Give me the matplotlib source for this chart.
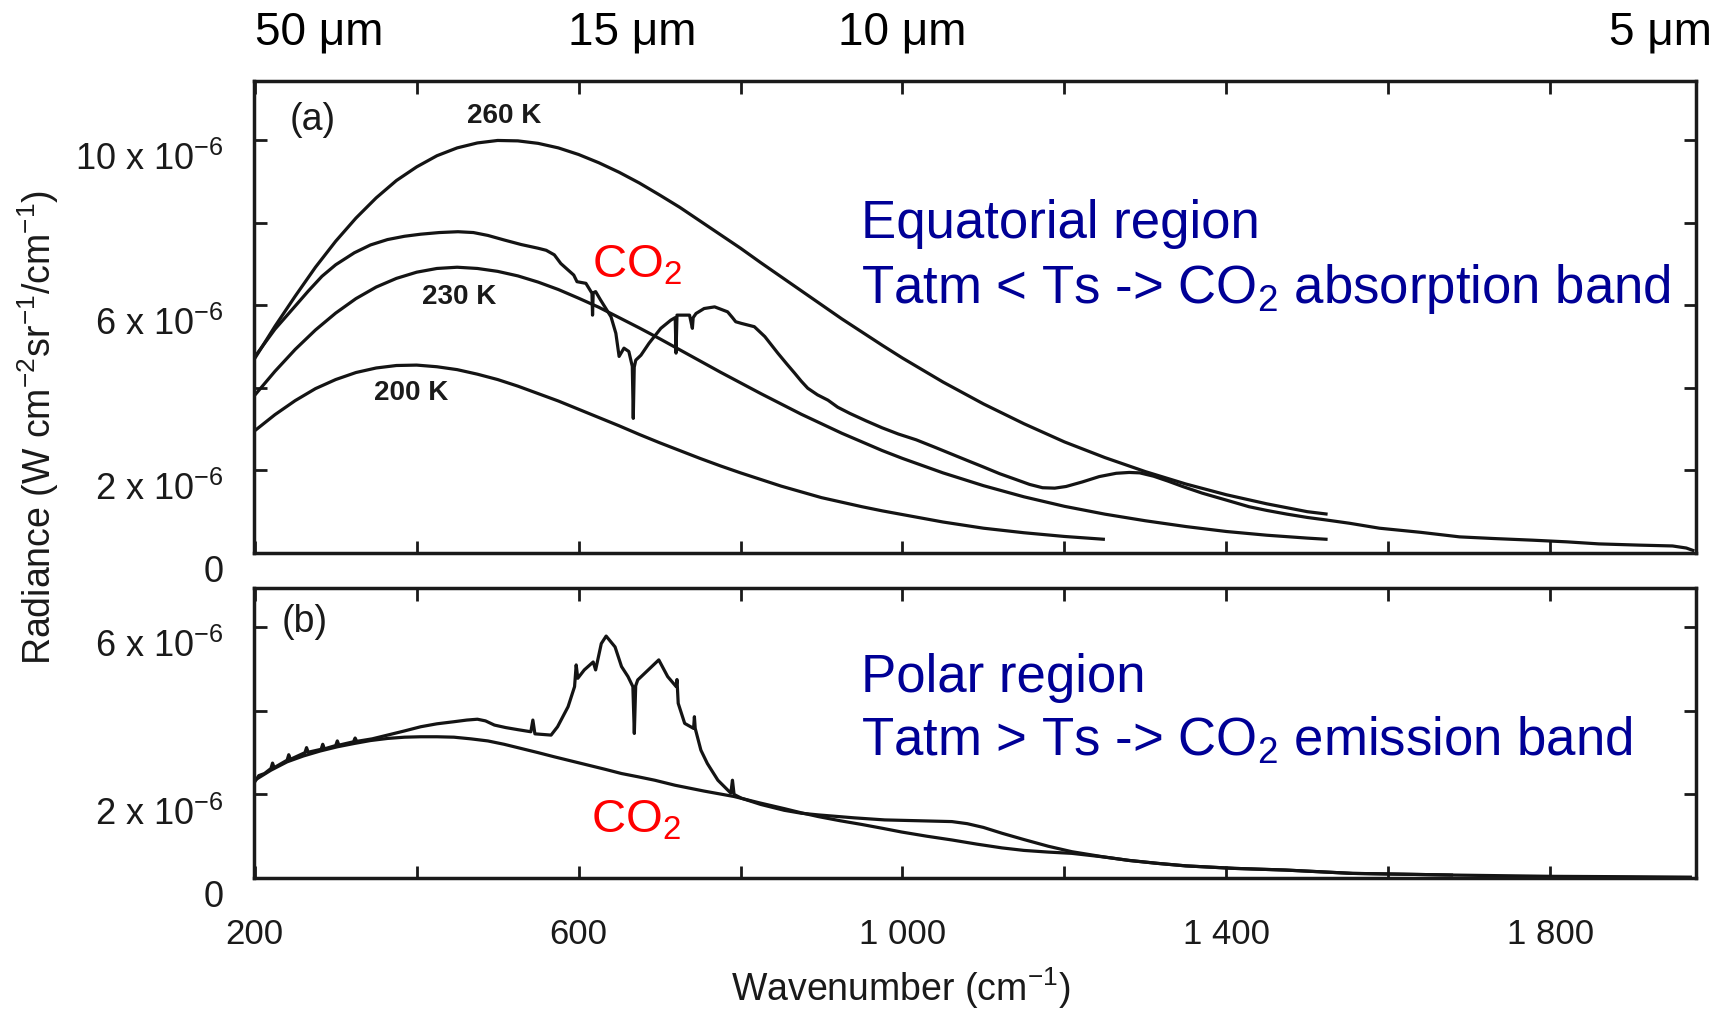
import matplotlib
matplotlib.use("Agg")
import matplotlib.pyplot as plt
from matplotlib.transforms import ScaledTranslation, blended_transform_factory

plt.rcParams['font.family'] = ['Liberation Sans', 'DejaVu Sans']
plt.rcParams['mathtext.default'] = 'regular'

# ---------------- data (radiance in units of 1e-6 W cm^-2 sr^-1 / cm^-1) ----------------
# Panel (a): blackbody reference curves
nu_260 = [200, 225, 250, 275, 300, 325, 350, 375, 400, 425, 450, 475, 500, 525, 550, 575,
          600, 625, 650, 675, 700, 725, 750, 775, 800, 825, 850, 875, 900, 925, 950, 975,
          1000, 1050, 1100, 1150, 1200, 1250, 1300, 1350, 1400, 1450, 1500, 1525]
rad_260 = [4.71, 5.49, 6.22, 6.92, 7.55, 8.11, 8.60, 9.02, 9.35, 9.62, 9.81, 9.93, 9.99, 9.98, 9.92, 9.81,
           9.65, 9.45, 9.22, 8.96, 8.67, 8.37, 8.04, 7.71, 7.38, 7.03, 6.69, 6.35, 6.01, 5.67, 5.35, 5.03,
           4.72, 4.14, 3.61, 3.13, 2.69, 2.31, 1.97, 1.67, 1.41, 1.19, 1.00, 0.94]

nu_230 = [200, 225, 250, 275, 300, 325, 350, 375, 400, 425, 450, 475, 500, 525, 550, 575,
          600, 625, 650, 675, 700, 725, 750, 775, 800, 825, 850, 875, 900, 925, 950, 975,
          1000, 1050, 1100, 1150, 1200, 1250, 1300, 1350, 1400, 1450, 1500, 1525]
rad_230 = [3.82, 4.40, 4.93, 5.40, 5.81, 6.16, 6.44, 6.65, 6.80, 6.89, 6.92, 6.89, 6.82, 6.71, 6.56, 6.38,
           6.17, 5.95, 5.70, 5.45, 5.19, 4.92, 4.65, 4.38, 4.12, 3.86, 3.61, 3.36, 3.13, 2.90, 2.69, 2.48,
           2.29, 1.94, 1.63, 1.36, 1.13, 0.94, 0.78, 0.64, 0.52, 0.43, 0.36, 0.33]

nu_200 = [200, 225, 250, 275, 300, 325, 350, 375, 400, 425, 450, 475, 500, 525, 550, 575,
          600, 625, 650, 675, 700, 725, 750, 775, 800, 825, 850, 875, 900, 925, 950, 975,
          1000, 1050, 1100, 1150, 1200, 1250]
rad_200 = [2.96, 3.35, 3.69, 3.98, 4.20, 4.37, 4.48, 4.54, 4.55, 4.51, 4.44, 4.33, 4.20, 4.04, 3.86, 3.68,
           3.48, 3.28, 3.08, 2.87, 2.67, 2.48, 2.29, 2.11, 1.94, 1.78, 1.62, 1.48, 1.34, 1.23, 1.12, 1.02,
           0.93, 0.75, 0.60, 0.49, 0.40, 0.33]

# Panel (a): measured equatorial spectrum
nu_eq = [200, 225, 250, 266, 283, 300, 323, 343, 364, 385, 405, 428, 451, 470, 488, 508, 529, 550,
         560, 570, 578, 594, 598, 609, 616.5, 617.2, 618, 621, 627, 640, 646, 650, 656, 662, 666.3,
         667.5, 668.7, 670.6, 677, 687, 701.5, 714, 719.3, 720.3, 721.5, 737, 740.5, 741.5, 745,
         755, 768, 784, 790, 794, 801, 817, 830, 846, 857, 867, 875, 883, 895, 908, 920, 935, 955,
         975, 995, 1017, 1040, 1060, 1080, 1099, 1120, 1140, 1157, 1173, 1188, 1202, 1222, 1243,
         1264, 1280, 1293, 1310, 1328, 1346, 1370, 1400, 1428, 1450, 1475, 1500, 1523, 1552, 1589,
         1640, 1688, 1730, 1778, 1820, 1860, 1910, 1951, 1968, 1978]
rad_eq = [4.75, 5.42, 5.98, 6.34, 6.70, 6.98, 7.27, 7.46, 7.59, 7.67, 7.72, 7.76, 7.78, 7.76, 7.69, 7.58,
          7.47, 7.38, 7.33, 7.22, 7.01, 6.73, 6.57, 6.53, 6.29, 5.76, 6.30, 6.33, 6.13, 5.72, 5.32, 4.76,
          4.96, 4.88, 4.52, 3.26, 4.50, 4.67, 4.79, 5.08, 5.44, 5.64, 5.70, 4.84, 5.76, 5.76, 5.44, 5.70,
          5.80, 5.92, 5.96, 5.84, 5.70, 5.60, 5.56, 5.48, 5.24, 4.84, 4.58, 4.35, 4.16, 3.99, 3.83, 3.70,
          3.53, 3.38, 3.20, 3.03, 2.88, 2.74, 2.56, 2.40, 2.24, 2.09, 1.92, 1.78, 1.66, 1.58, 1.57, 1.61,
          1.72, 1.85, 1.93, 1.95, 1.94, 1.86, 1.74, 1.61, 1.45, 1.28, 1.12, 1.03, 0.94, 0.86, 0.80, 0.72,
          0.60, 0.50, 0.39, 0.35, 0.31, 0.27, 0.22, 0.19, 0.17, 0.12, 0.05]

# Panel (b): smooth reference curve
nu_ref_b = [200, 220, 240, 260, 281, 302, 323, 343, 364, 385, 405, 425, 446, 467, 488, 508, 529, 550,
            570, 591, 612, 633, 653, 674, 694, 719, 755, 792, 823, 854, 875, 896, 923, 950, 975, 999,
            1030, 1061, 1092, 1123, 1150, 1180, 1209, 1250, 1280, 1315, 1350, 1410, 1473, 1556, 1620,
            1680]
rad_ref_b = [2.34, 2.58, 2.78, 2.92, 3.04, 3.14, 3.22, 3.29, 3.34, 3.37, 3.38, 3.38, 3.37, 3.33, 3.28, 3.20,
             3.10, 3.00, 2.90, 2.80, 2.70, 2.60, 2.50, 2.42, 2.34, 2.22, 2.08, 1.95, 1.80, 1.66, 1.56, 1.47,
             1.37, 1.28, 1.19, 1.10, 1.00, 0.91, 0.81, 0.72, 0.66, 0.62, 0.59, 0.50, 0.42, 0.35, 0.29, 0.23,
             0.19, 0.11, 0.09, 0.07]

# Panel (b): measured polar spectrum
nu_pol = [200, 205, 212, 220, 222, 224, 240, 242, 244, 262, 264, 266, 282, 284, 286, 300, 302, 304,
          322, 324, 326, 345, 364, 385, 405, 425, 446, 462, 475, 485, 496, 510, 525, 541, 543.5, 546,
          566, 574, 587, 595, 597, 599, 607, 618, 621, 628, 634, 645, 653, 661, 667, 668.8, 670.5,
          673, 686, 699, 710, 720.5, 721.5, 723, 731, 742, 743, 744, 751, 759, 772, 788, 790, 792,
          801, 825, 854, 875, 896, 940, 978, 1020, 1061, 1080, 1100, 1123, 1150, 1180, 1209, 1250,
          1280, 1315, 1350, 1410, 1473, 1556, 1620, 1680, 1800, 1900, 1975]
rad_pol = [2.30, 2.45, 2.50, 2.62, 2.75, 2.64, 2.82, 2.95, 2.84, 3.00, 3.12, 3.01, 3.08, 3.20, 3.09,
           3.17, 3.28, 3.18, 3.26, 3.35, 3.27, 3.33, 3.42, 3.52, 3.62, 3.69, 3.74, 3.78, 3.80, 3.76, 3.66,
           3.60, 3.55, 3.50, 3.78, 3.45, 3.42, 3.62, 4.10, 4.58, 5.10, 4.78, 4.98, 5.17, 4.98, 5.61, 5.79,
           5.53, 5.06, 4.82, 4.58, 3.46, 4.60, 4.74, 4.98, 5.22, 4.82, 4.58, 4.75, 4.18, 3.70, 3.58, 3.86,
           3.58, 3.06, 2.74, 2.34, 2.03, 2.34, 2.00, 1.91, 1.76, 1.62, 1.55, 1.51, 1.44, 1.39, 1.37, 1.35,
           1.30, 1.21, 1.07, 0.92, 0.76, 0.63, 0.50, 0.42, 0.35, 0.29, 0.23, 0.19, 0.11, 0.09, 0.07, 0.04,
           0.03, 0.02]

# ticks / labels
x_ticks = [200, 400, 600, 800, 1000, 1200, 1400, 1600, 1800]
x_ticklabels = ["200", "", "600", "", "1 000", "", "1 400", "", "1 800"]
ya_ticks = [0, 2, 4, 6, 8, 10]
ya_ticklabels = ["0", "2 x 10$^{-6}$", "", "6 x 10$^{-6}$", "", "10 x 10$^{-6}$"]
yb_ticks = [0, 2, 4, 6]
yb_ticklabels = ["0", "2 x 10$^{-6}$", "", "6 x 10$^{-6}$"]
wavelength_um = [50, 15, 10, 5]
wavelength_labels = ["50 \u03bcm", "15 \u03bcm", "10 \u03bcm", "5 \u03bcm"]

# ---------------- figure ----------------
fig = plt.figure(figsize=(17.18, 10.10), dpi=100)
ax_a = fig.add_axes([0.1478, 0.4525, 0.8394, 0.4673])
ax_b = fig.add_axes([0.1478, 0.1307, 0.8394, 0.2871])

lk = dict(color='#141414', lw=2.3, solid_joinstyle='round', solid_capstyle='butt')
ax_a.plot(nu_260, rad_260, **lk)
ax_a.plot(nu_230, rad_230, **lk)
ax_a.plot(nu_200, rad_200, **lk)
ax_a.plot(nu_eq, rad_eq, **lk)
ax_b.plot(nu_ref_b, rad_ref_b, **lk)
ax_b.plot(nu_pol, rad_pol, **lk)

ax_a.set_ylim(0, 11.43)
ax_b.set_ylim(0, 6.94)
for ax in (ax_a, ax_b):
    ax.set_xlim(199, 1980)
    ax.set_xticks(x_ticks)
    ax.tick_params(direction='in', length=9, width=2, top=True, right=True,
                   labelsize=25, colors='#1a1a1a')
    ax.tick_params(axis='y', pad=22, labelsize=26)
    ax.tick_params(axis='x', pad=29)
    for s in ax.spines.values():
        s.set_linewidth(2.5)
        s.set_color('#1a1a1a')

ax_a.set_xticklabels([])
ax_b.set_xticklabels(x_ticklabels)
ax_a.set_yticks(ya_ticks)
ax_a.set_yticklabels(ya_ticklabels)
ax_b.set_yticks(yb_ticks)
ax_b.set_yticklabels(yb_ticklabels)
shift = ScaledTranslation(0, -16 / 100, fig.dpi_scale_trans)
for ax in (ax_a, ax_b):
    for lab in ax.get_yticklabels():
        lab.set_transform(lab.get_transform() + shift)

# axis labels
fig.text(0.0221, 1 - 427 / 1010, "Radiance (W cm$^{-2}$sr$^{-1}$/cm$^{-1}$)", rotation=90,
         ha='center', va='center', fontsize=27, color='#1a1a1a')
fig.text(901 / 1718, 1 - 988 / 1010, "Wavenumber (cm$^{-1}$)", ha='center', va='center',
         fontsize=27, color='#1a1a1a')

# panel tags and temperature labels
ax_a.text(243, 10.48, "(a)", ha='left', va='center', fontsize=27, color='#1a1a1a')
ax_b.text(233, 6.12, "(b)", ha='left', va='center', fontsize=27, color='#1a1a1a')
ax_a.text(508, 10.58, "260 K", ha='center', va='center', fontsize=20, fontweight='bold', color='#1a1a1a')
ax_a.text(452, 6.20, "230 K", ha='center', va='center', fontsize=20, fontweight='bold', color='#1a1a1a')
ax_a.text(393, 3.87, "200 K", ha='center', va='center', fontsize=20, fontweight='bold', color='#1a1a1a')

# annotations
red = '#ff0000'
blue = '#000096'
ax_a.text(616, 6.68, "CO$_2$", color=red, fontsize=34, ha='left', va='baseline')
ax_b.text(615, 1.10, "CO$_2$", color=red, fontsize=34, ha='left', va='baseline')
ax_a.text(949, 7.63, "Equatorial region", color=blue, fontsize=38, ha='left', va='baseline')
ax_a.text(949, 6.05, "Tatm < Ts -> CO$_2$ absorption band", color=blue, fontsize=38,
          ha='left', va='baseline')
ax_b.text(949, 4.45, "Polar region", color=blue, fontsize=38, ha='left', va='baseline')
ax_b.text(949, 2.94, "Tatm > Ts -> CO$_2$ emission band", color=blue, fontsize=38,
          ha='left', va='baseline')

# wavelength labels on top
tr = blended_transform_factory(ax_a.transData, fig.transFigure)
aligns = ['left', 'center', 'center', 'right']
for lam, lab, ha in zip(wavelength_um, wavelength_labels, aligns):
    ax_a.text(10000.0 / lam, 0.9564, lab, transform=tr, ha=ha, va='baseline',
              fontsize=33, color='black', clip_on=False)

fig.savefig("out.png", dpi=100, facecolor='white')
